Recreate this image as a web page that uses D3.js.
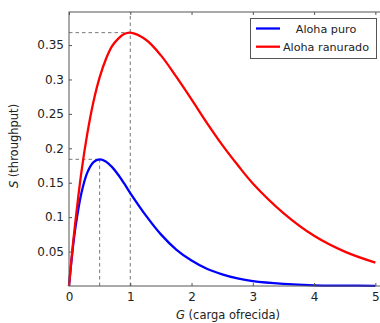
<!DOCTYPE html>
<html>
<head>
<meta charset="utf-8">
<script src="https://cdn.jsdelivr.net/npm/d3@7/dist/d3.min.js"></script>
<style>
  body { margin: 0; background: #fff; }
  svg text { font-family: "DejaVu Sans", sans-serif; fill: #222; }
</style>
</head>
<body>
<svg id="chart" width="380" height="323"></svg>
<script>
// carga ofrecida G
var cargaG = [0, 0.05, 0.1, 0.2, 0.3, 0.4, 0.5, 0.6, 0.7, 0.8, 0.9, 1.0,
    1.25, 1.5, 1.75, 2.0, 2.25, 2.5, 2.75, 3.0, 3.5, 4.0, 4.5, 5.0];
// throughput S
var alohaPuro = [0, 0.045, 0.082, 0.134, 0.165, 0.180, 0.184, 0.181, 0.173, 0.162, 0.149, 0.135,
    0.103, 0.075, 0.053, 0.037, 0.025, 0.017, 0.011, 0.007, 0.003, 0.001, 0.0006, 0.0002];
var alohaRanurado = [0, 0.048, 0.090, 0.164, 0.222, 0.268, 0.303, 0.329, 0.348, 0.359, 0.366, 0.368,
    0.358, 0.335, 0.304, 0.271, 0.237, 0.205, 0.176, 0.149, 0.106, 0.073, 0.050, 0.034];
var seriesNames = ["Aloha puro", "Aloha ranurado"];
var seriesColors = ["#0000ff", "#ff0000"];
// maximos
var picoG = [0.5, 1];
var picoS = [0.184, 0.368];
var xTicks = [0, 1, 2, 3, 4, 5];
var yTicks = [0.05, 0.1, 0.15, 0.2, 0.25, 0.3, 0.35];

var svg = d3.select("#chart");
var pLeft = 69, pRight = 387, pTop = 12, pBottom = 286;

var x = d3.scaleLinear().domain([0, 5.19]).range([pLeft, pRight]);
var y = d3.scaleLinear().domain([0, 0.398]).range([pBottom, pTop]);

var axisColor = "#555";

// dashed guides
var guides = svg.append("g")
    .attr("stroke", "#777")
    .attr("stroke-width", 1)
    .attr("stroke-dasharray", "3.5,3")
    .attr("fill", "none");
picoG.forEach(function (g, i) {
    guides.append("line")
        .attr("x1", x(0)).attr("x2", x(g))
        .attr("y1", y(picoS[i])).attr("y2", y(picoS[i]));
    guides.append("line")
        .attr("x1", x(g)).attr("x2", x(g))
        .attr("y1", y(0))
        .attr("y2", i == 1 ? y(y.domain()[1]) : y(picoS[i]));
});

// curves
var line = d3.line()
    .x(function (d) { return x(d[0]); })
    .y(function (d) { return y(d[1]); })
    .curve(d3.curveCatmullRom);

[alohaPuro, alohaRanurado].forEach(function (vals, i) {
    svg.append("path")
        .datum(cargaG.map(function (g, j) { return [g, vals[j]]; }))
        .attr("fill", "none")
        .attr("stroke", seriesColors[i])
        .attr("stroke-width", 2.3)
        .attr("d", line);
});

// frame
svg.append("rect")
    .attr("x", pLeft).attr("y", pTop)
    .attr("width", pRight - pLeft).attr("height", pBottom - pTop)
    .attr("fill", "none")
    .attr("stroke", axisColor)
    .attr("stroke-width", 1);

// x axis (bottom + top ticks inward)
var xAxis = svg.append("g")
    .attr("transform", "translate(0," + pBottom + ")")
    .call(d3.axisBottom(x).tickValues(xTicks).tickSize(-3).tickPadding(6).tickFormat(d3.format("d")));
var xTop = svg.append("g")
    .attr("transform", "translate(0," + pTop + ")")
    .call(d3.axisTop(x).tickValues(xTicks).tickSize(-3).tickFormat(""));

var yAxis = svg.append("g")
    .attr("transform", "translate(" + pLeft + ",0)")
    .call(d3.axisLeft(y).tickValues(yTicks).tickSize(-3).tickPadding(5).tickFormat(d3.format("")));

[xAxis, xTop, yAxis].forEach(function (a) {
    a.select(".domain").remove();
    a.selectAll(".tick line").attr("stroke", axisColor);
    a.selectAll("text").attr("font-size", "12px").attr("fill", "#222");
});

// axis labels
var xl = svg.append("text")
    .attr("x", (pLeft + pRight) / 2)
    .attr("y", 319)
    .attr("text-anchor", "middle")
    .attr("font-size", "11.5px");
xl.append("tspan").attr("font-style", "italic").text("G");
xl.append("tspan").text(" (carga ofrecida)");

var yl = svg.append("text")
    .attr("transform", "translate(18," + ((pTop + pBottom) / 2 - 3) + ") rotate(-90)")
    .attr("text-anchor", "middle")
    .attr("font-size", "11.5px");
yl.append("tspan").attr("font-style", "italic").text("S");
yl.append("tspan").text(" (throughput)");

// legend
var lg = svg.append("g");
lg.append("rect")
    .attr("x", 250.5).attr("y", 18.5)
    .attr("width", 126).attr("height", 40)
    .attr("fill", "#fff")
    .attr("stroke", axisColor)
    .attr("stroke-width", 1);
seriesNames.forEach(function (name, i) {
    var yy = 28.5 + i * 18.2;
    lg.append("line")
        .attr("x1", 256).attr("x2", 280)
        .attr("y1", yy).attr("y2", yy)
        .attr("stroke", seriesColors[i])
        .attr("stroke-width", 2.3);
    lg.append("text")
        .attr("x", 326).attr("y", yy + 4)
        .attr("text-anchor", "middle")
        .attr("font-size", "11.2px")
        .text(name);
});
</script>
</body>
</html>
